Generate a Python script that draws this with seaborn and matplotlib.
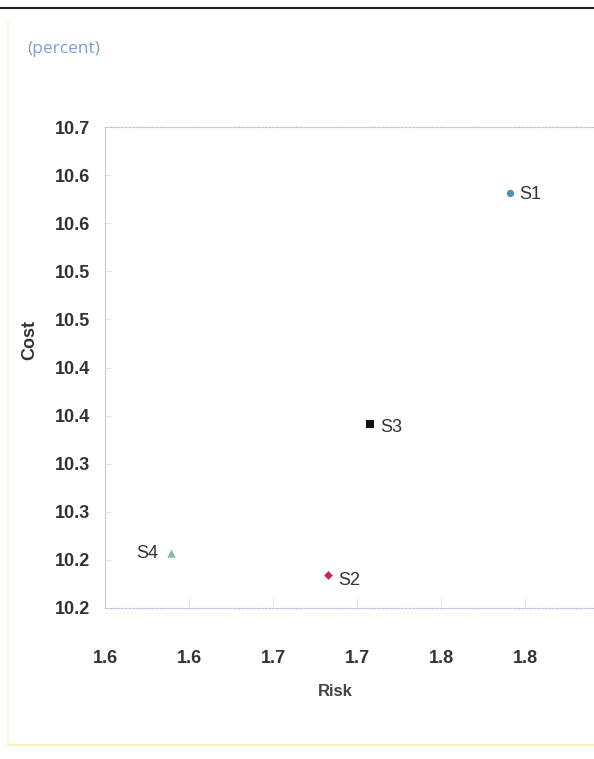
import seaborn as sns
import matplotlib.pyplot as plt
import pandas as pd
from matplotlib.lines import Line2D

# data
names = ['S1', 'S2', 'S3', 'S4']
risk = [1.841, 1.733, 1.758, 1.639]
cost = [10.631, 10.234, 10.391, 10.257]

x_ticks = [1.60, 1.65, 1.70, 1.75, 1.80, 1.85]
x_labels = ['1.6', '1.6', '1.7', '1.7', '1.8', '1.8']
y_ticks = [10.20, 10.25, 10.30, 10.35, 10.40, 10.45, 10.50, 10.55, 10.60, 10.65, 10.70]
y_labels = ['10.2', '10.2', '10.3', '10.3', '10.4', '10.4', '10.5', '10.5', '10.6', '10.6', '10.7']

df = pd.DataFrame({'name': names, 'Risk': risk, 'Cost': cost})

sns.set_theme(style='white')
narrow = ['Liberation Sans', 'DejaVu Sans']
plt.rcParams['font.family'] = narrow

fig = plt.figure(figsize=(5.94, 7.59), dpi=100)
ax = fig.add_axes([105 / 594, 1 - 608 / 759, 1 - 105 / 594, (608 - 127) / 759])

palette = {'S1': '#4f8fc0', 'S2': '#c8284a', 'S3': '#111111', 'S4': '#7fbfa5'}
markers = {'S1': 'o', 'S2': 'D', 'S3': 's', 'S4': '^'}
sizes = {'S1': 28, 'S2': 20, 'S3': 38, 'S4': 36}

for n in names:
    sub = df[df['name'] == n]
    sns.scatterplot(data=sub, x='Risk', y='Cost', color=palette[n],
                    marker=markers[n], s=sizes[n], linewidth=0, ax=ax, legend=False)

# point labels
offsets = {'S1': (7, -1), 'S2': (7, -4), 'S3': (7, -2), 'S4': (-25, 0)}
for _, r in df.iterrows():
    ax.annotate(r['name'], (r['Risk'], r['Cost']), xytext=offsets[r['name']],
                textcoords='offset points', va='center', ha='left',
                fontsize=13, color='#333333')

ax.set_xlim(1.6, 1.6 + (594 - 105) / 84 * 0.05)
ax.set_ylim(10.2, 10.7)
ax.set_xticks(x_ticks)
ax.set_xticklabels(x_labels)
ax.set_yticks(y_ticks)
ax.set_yticklabels(y_labels)

lc = '#bcc2de'
for s in ['left', 'top', 'bottom']:
    ax.spines[s].set_color(lc)
    ax.spines[s].set_linestyle((0, (2, 1.5)))
    ax.spines[s].set_linewidth(0.8)
ax.spines['right'].set_visible(False)

ax.tick_params(axis='x', direction='in', length=7, width=0.6, color='#dde0ee',
               pad=30, labelsize=13, labelcolor='#333333', bottom=True)
ax.tick_params(axis='y', direction='in', length=4, width=0.6, color='#dde0ee',
               pad=11, labelsize=13, labelcolor='#333333', left=True)
for lab in ax.get_xticklabels() + ax.get_yticklabels():
    lab.set_fontweight('bold')

ax.set_xlabel('Risk', fontsize=12, color='#444444', fontweight='bold')
ax.set_ylabel('Cost', fontsize=13, color='#333333', fontweight='bold')
ax.xaxis.set_label_coords((335 - 105) / 489, -(684 - 608) / 481)
ax.yaxis.set_label_coords((38 - 105) / 489, (608 - 340) / 481)

fig.text(27 / 594, 1 - 49 / 759, '(percent)', fontsize=12.5, color='#7c9ed2',
         family=['Open Sans', 'DejaVu Sans'], va='center')

# frame lines of the page
fig.add_artist(Line2D([0, 1], [1 - 8 / 759, 1 - 8 / 759], color='#222222', lw=1.5))
fig.add_artist(Line2D([8 / 594, 8 / 594], [1 - 745 / 759, 1 - 20 / 759], color='#fbf7d6', lw=1.2))
fig.add_artist(Line2D([8 / 594, 1], [1 - 745 / 759, 1 - 745 / 759], color='#f7efa8', lw=1.2))

fig.savefig('out.png', dpi=100)
